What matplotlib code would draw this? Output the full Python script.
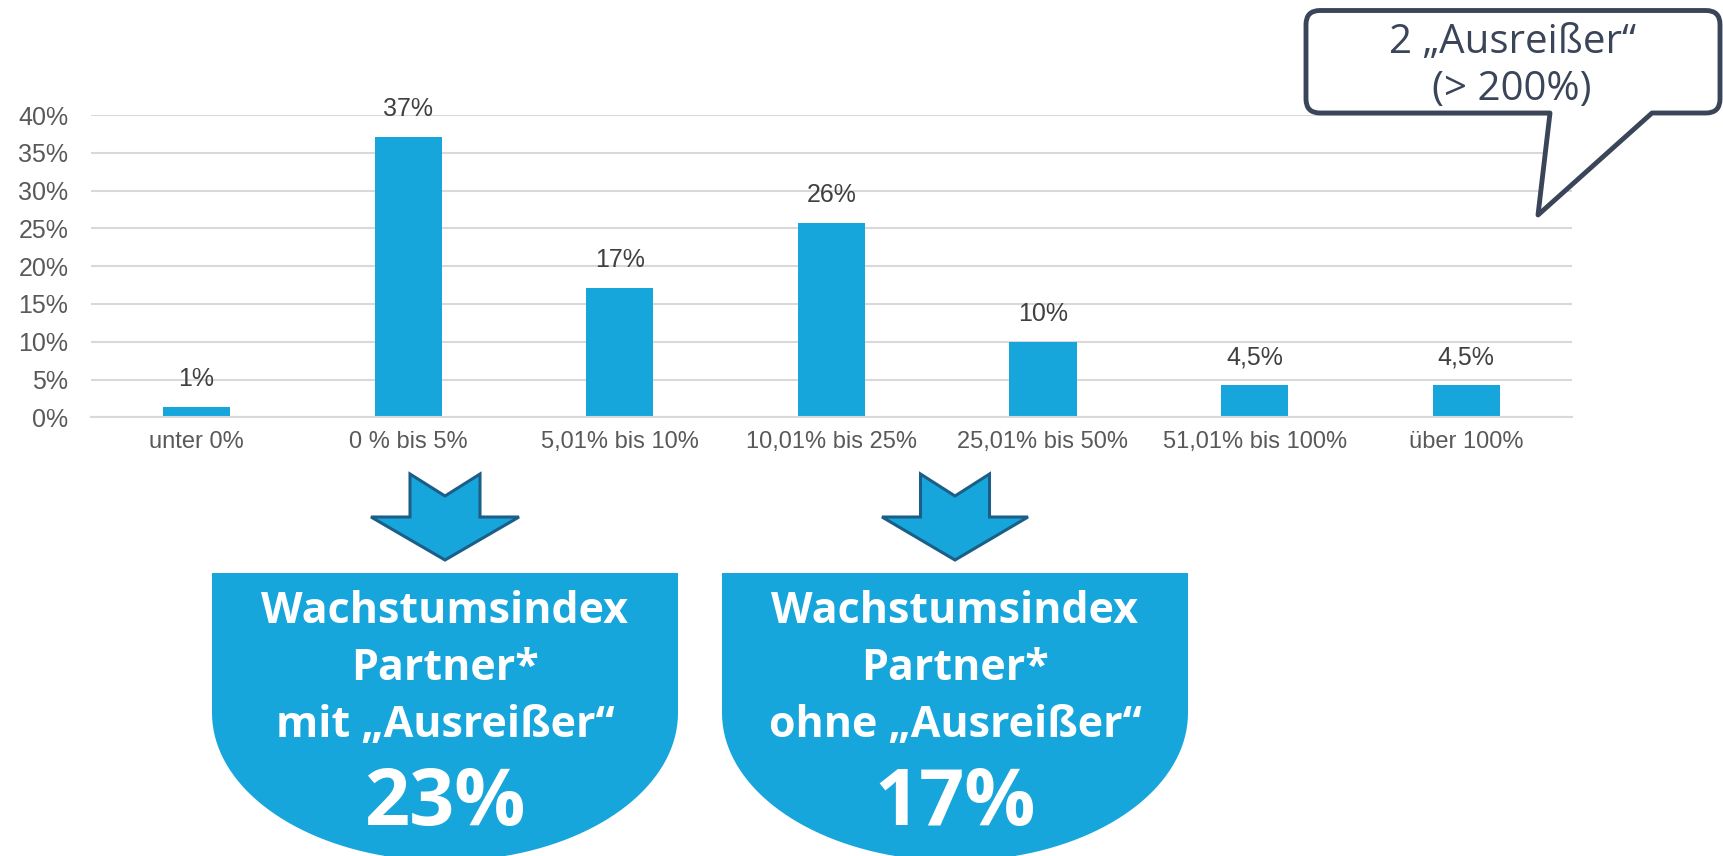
import numpy as np
import matplotlib.pyplot as plt
from matplotlib.patches import Polygon, PathPatch
from matplotlib.path import Path

# Daten
categories = ["unter 0%", "0 % bis 5%", "5,01% bis 10%", "10,01% bis 25%",
              "25,01% bis 50%", "51,01% bis 100%", "über 100%"]
values = [1.4, 37.1, 17.1, 25.7, 10.0, 4.3, 4.3]
value_labels = ["1%", "37%", "17%", "26%", "10%", "4,5%", "4,5%"]
y_ticks = [0, 5, 10, 15, 20, 25, 30, 35, 40]

callout_lines = ["2 „Ausreißer“", "(> 200%)"]
box_texts = [["Wachstumsindex", "Partner*", "mit „Ausreißer“", "23%"],
             ["Wachstumsindex", "Partner*", "ohne „Ausreißer“", "17%"]]

blue = "#17a6dc"
dark = "#3b4559"

plt.rcParams['font.family'] = ['Liberation Sans', 'DejaVu Sans']

fig = plt.figure(figsize=(17.24, 8.56), dpi=100)
W, H = 1724, 856

# Balkendiagramm
ax = fig.add_axes([90.7 / W, 1 - 417.3 / H, (1572 - 90.7) / W, (417.3 - 115) / H])
x = np.arange(len(categories))
bars = ax.bar(x, values, width=0.317, color=blue, zorder=2)
ax.set_xlim(-0.5, len(categories) - 0.5)
ax.set_ylim(0, 40)
ax.set_yticks(y_ticks)
ax.set_yticklabels([f"{v}%" for v in y_ticks])
ax.set_xticks(x)
ax.set_xticklabels(categories)
ax.tick_params(axis='y', length=0, pad=16, labelsize=18, labelcolor="#595959")
ax.tick_params(axis='x', length=0, pad=10, labelsize=17, labelcolor="#595959")
ax.grid(axis='y', color="#d9d9d9", linewidth=1.5, zorder=0)
for s in ['top', 'right', 'left']:
    ax.spines[s].set_visible(False)
ax.spines['bottom'].set_color("#d9d9d9")
ax.spines['bottom'].set_linewidth(1.5)

for b, lab in zip(bars, value_labels):
    ax.annotate(lab, (b.get_x() + b.get_width() / 2, b.get_height()),
                xytext=(0, 20), textcoords='offset points', ha='center', va='center',
                fontsize=18, color="#404040", annotation_clip=False)

# Overlay in Pixelkoordinaten
ov = fig.add_axes([0, 0, 1, 1], zorder=5)
ov.set_xlim(0, W)
ov.set_ylim(H, 0)
ov.axis('off')
ov.patch.set_alpha(0)

# Sprechblase
L, R, T, B, r = 1306, 1720, 10.5, 113, 14
x1, x2, tip = 1550, 1652, (1538, 215)
verts = [(L + r, T), (R - r, T), (R, T), (R, T + r), (R, B - r), (R, B), (R - r, B),
         (x2, B), tip, (x1, B), (L + r, B), (L, B), (L, B - r), (L, T + r), (L, T), (L + r, T),
         (L + r, T)]
codes = [Path.MOVETO, Path.LINETO, Path.CURVE3, Path.CURVE3, Path.LINETO, Path.CURVE3, Path.CURVE3,
         Path.LINETO, Path.LINETO, Path.LINETO, Path.LINETO, Path.CURVE3, Path.CURVE3, Path.LINETO,
         Path.CURVE3, Path.CURVE3, Path.CLOSEPOLY]
ov.add_patch(PathPatch(Path(verts, codes), facecolor='white', edgecolor=dark,
                       linewidth=3.5, joinstyle='round'))
ov.text(1513, 53, callout_lines[0], ha='center', va='baseline', fontsize=29,
        color=dark, family=['Open Sans', 'DejaVu Sans'])
ov.text(1512, 100, callout_lines[1], ha='center', va='baseline', fontsize=29,
        color=dark, family=['Open Sans', 'DejaVu Sans'])

# Pfeile und Ergebnisfelder
for cx, shaft, wing, texts in [(445, 35, 74, box_texts[0]), (955, 34.5, 73, box_texts[1])]:
    arrow = [(cx - shaft, 474), (cx, 496), (cx + shaft, 474), (cx + shaft, 517),
             (cx + wing, 517), (cx, 560), (cx - wing, 517), (cx - shaft, 517)]
    ov.add_patch(Polygon(arrow, closed=True, facecolor=blue, edgecolor="#1b5e87",
                         linewidth=2.2, joinstyle='miter'))

    a, top, mid, bh = 233, 573, 713, 148
    t = np.linspace(0, np.pi, 80)
    bowl = [(cx - a, top), (cx + a, top)]
    bowl += list(zip(cx + a * np.cos(t), mid + bh * np.sin(t)))
    ov.add_patch(Polygon(bowl, closed=True, facecolor=blue, edgecolor='none'))

    for ty, txt, fs in zip([623, 680, 737, 825], texts, [31, 31, 31, 57]):
        ov.text(cx, ty, txt, ha='center', va='baseline', fontsize=fs, color='white',
                fontweight='bold', family=['Open Sans', 'DejaVu Sans'])

fig.savefig("out.png", dpi=100)
